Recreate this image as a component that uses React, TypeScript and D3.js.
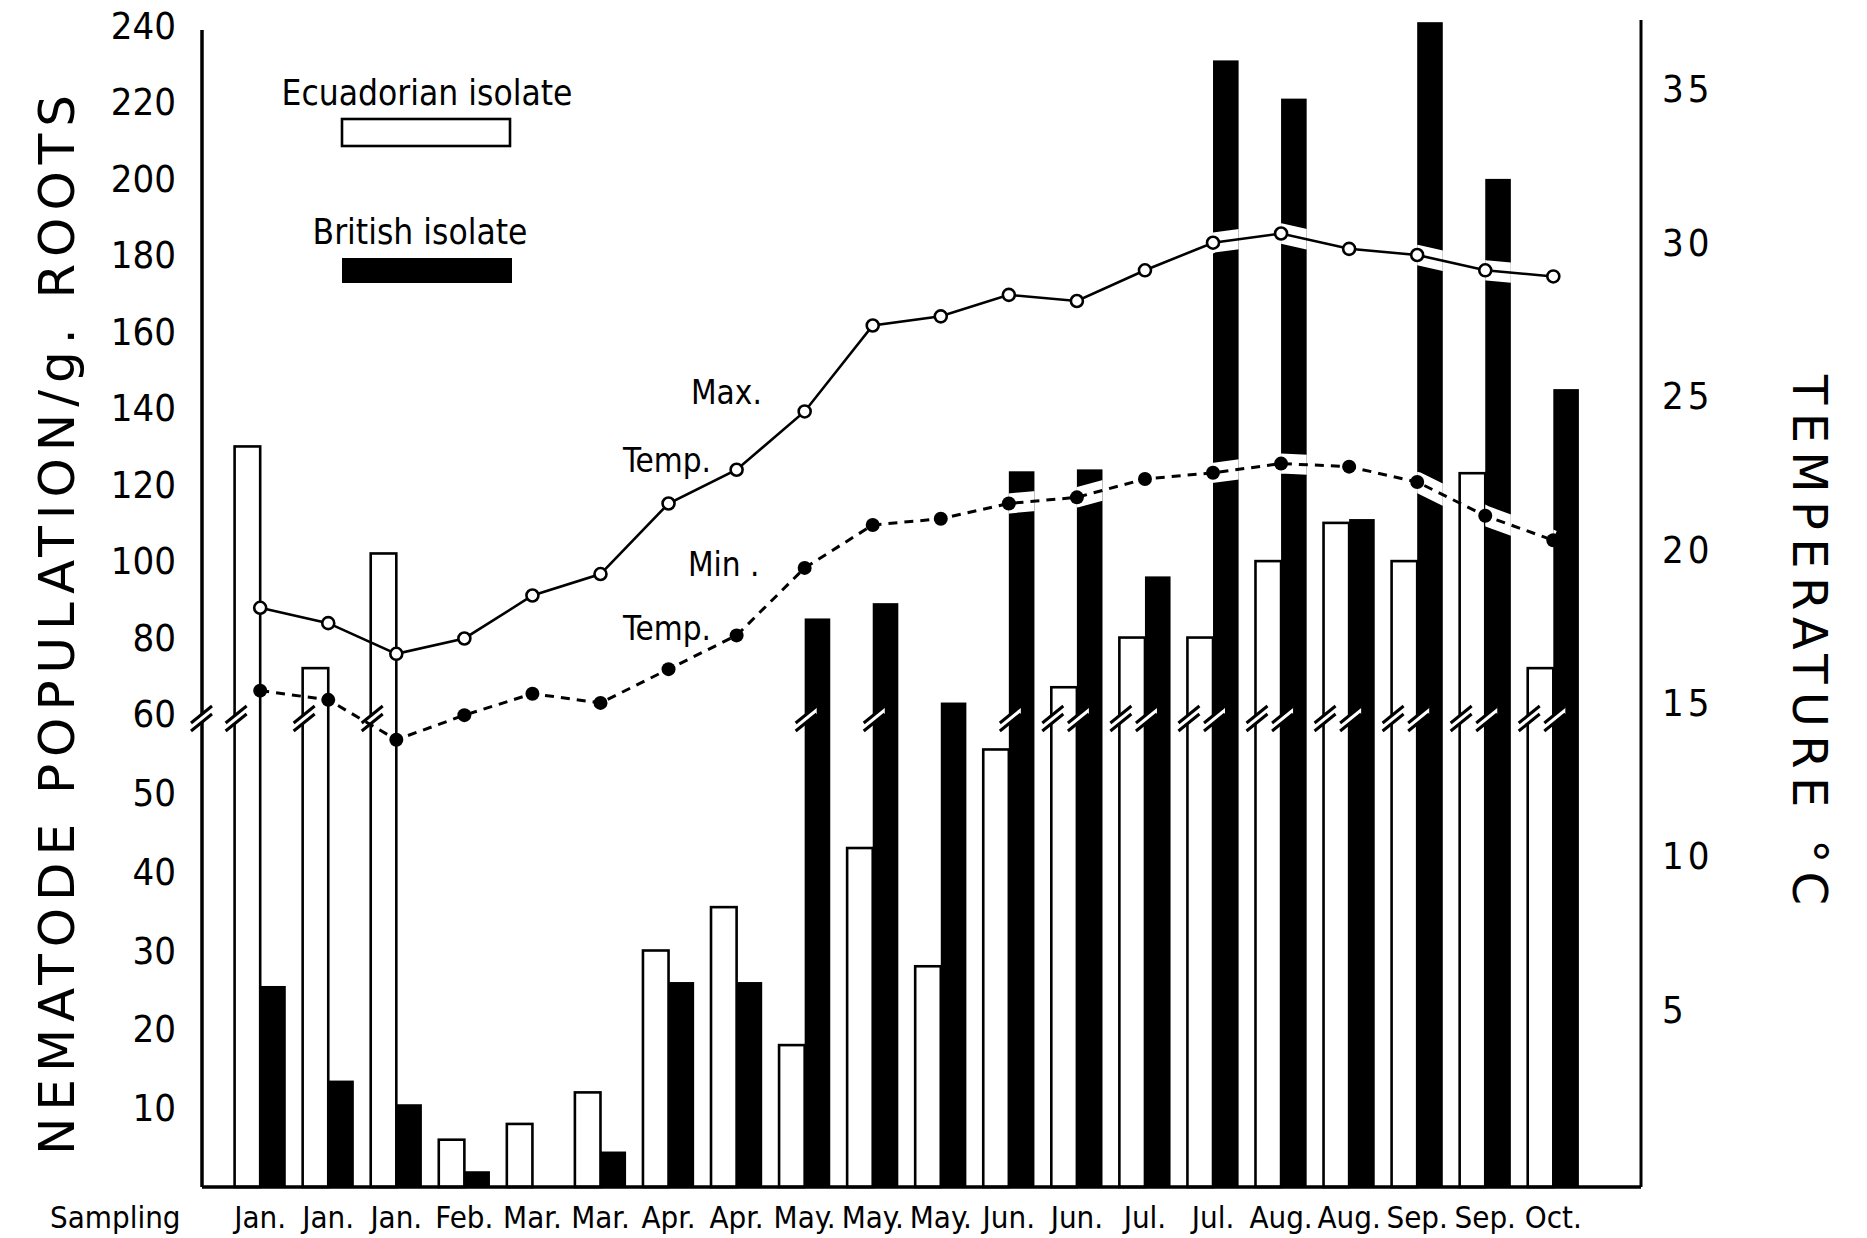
import React from "react";
import * as d3 from "d3";

// Sampling occasions (x categories)
const sampling = [
  "Jan.", "Jan.", "Jan.", "Feb.", "Mar.", "Mar.", "Apr.", "Apr.", "May.", "May.",
  "May.", "Jun.", "Jun.", "Jul.", "Jul.", "Aug.", "Aug.", "Sep.", "Sep.", "Oct.",
];

// Nematode population per g. roots
const ecuadorian = [130, 72, 102, 6, 8, 12, 30, 35.5, 18, 43, 28, 55.5, 67, 80, 80, 100, 110, 100, 123, 72];
const british = [25.5, 13.5, 10.5, 2, 0, 4.5, 26, 26, 85, 89, 63, 123.5, 124, 96, 231, 221, 111, 241, 200, 145];

// Air temperature, degrees C
const maxTemp = [18.1, 17.6, 16.6, 17.1, 18.5, 19.2, 21.5, 22.6, 24.5, 27.3, 27.6, 28.3, 28.1, 29.1, 30.0, 30.3, 29.8, 29.6, 29.1, 28.9];
const minTemp = [15.4, 15.1, 13.8, 14.6, 15.3, 15.0, 16.1, 17.2, 19.4, 20.8, 21.0, 21.5, 21.7, 22.3, 22.5, 22.8, 22.7, 22.2, 21.1, 20.3];

// Axis ticks
const popTicks = [10, 20, 30, 40, 50, 60, 80, 100, 120, 140, 160, 180, 200, 220, 240];
const tempTicks = [5, 10, 15, 20, 25, 30, 35];

const W = 1867;
const H = 1238;
const LEFT = 202;
const RIGHT = 1641;
const BASE = 1187;
const BREAK_VALUE = 60;

const LABEL_FONT = "'DejaVu Sans Condensed', 'Liberation Sans Narrow', 'DejaVu Sans', sans-serif";
const TITLE_FONT = "'DejaVu Sans', 'Noto Sans', sans-serif";

function BreakMark({ x0, yb }: { x0: number; yb: number }) {
  // a "//" scale break drawn across the left edge of a bar or axis
  const a = { x: x0 - 9, y: yb + 5 };
  const b = { x: x0 + 12, y: yb - 12 };
  const g = 8;
  return (
    <g>
      <polygon
        points={`${a.x},${a.y} ${b.x},${b.y} ${b.x},${b.y + g} ${a.x},${a.y + g}`}
        fill="#fff"
      />
      <line x1={a.x} y1={a.y} x2={b.x} y2={b.y} stroke="#000" strokeWidth={3} />
      <line x1={a.x} y1={a.y + g} x2={b.x} y2={b.y + g} stroke="#000" strokeWidth={3} />
    </g>
  );
}

export default function App() {
  const idx = d3.range(sampling.length);
  const x = d3
    .scaleBand<number>()
    .domain(idx)
    .range([234.6, 1578.9])
    .paddingInner(0.248)
    .paddingOuter(0);
  const y = d3.scaleLinear().domain([0, BREAK_VALUE, 240]).range([BASE, 714, 26]);
  const t = d3.scaleLinear().domain([5, 35]).range([1009.7, 89.3]);

  const half = x.bandwidth() / 2;
  const cx = (i: number) => (x(i) as number) + half;
  const tempLine = d3
    .line<number>()
    .x((_, i) => cx(i))
    .y((d) => t(d));

  const maxPath = tempLine(maxTemp) || "";
  const minPath = tempLine(minTemp) || "";
  const yb = y(BREAK_VALUE) + 4;

  return (
    <svg
      width={W}
      height={H}
      viewBox={`0 0 ${W} ${H}`}
      style={{ position: "absolute", left: 0, top: 0, background: "#fff" }}
    >
      <rect x={0} y={0} width={W} height={H} fill="#fff" />
      <defs>
        <clipPath id="britishBars">
          {idx.map((i) => (
            <rect
              key={i}
              x={cx(i)}
              y={y(british[i])}
              width={half}
              height={BASE - y(british[i])}
            />
          ))}
        </clipPath>
      </defs>

      {/* Ecuadorian isolate: open bars */}
      {idx.map((i) => (
        <rect
          key={`e${i}`}
          x={x(i)}
          y={y(ecuadorian[i])}
          width={half}
          height={BASE - y(ecuadorian[i])}
          fill="#fff"
          stroke="#000"
          strokeWidth={2.6}
        />
      ))}

      {/* British isolate: solid bars */}
      {idx.map((i) =>
        british[i] > 0 ? (
          <rect
            key={`b${i}`}
            x={cx(i)}
            y={y(british[i])}
            width={half}
            height={BASE - y(british[i])}
            fill="#000"
          />
        ) : null
      )}

      {/* white gaps where the temperature curves cross the solid bars */}
      <g clipPath="url(#britishBars)">
        <path d={maxPath} fill="none" stroke="#fff" strokeWidth={20} />
        <path d={minPath} fill="none" stroke="#fff" strokeWidth={20} />
      </g>

      {/* scale breaks on bars above 60 */}
      {idx.map((i) =>
        ecuadorian[i] > 65 ? <BreakMark key={`eb${i}`} x0={x(i) as number} yb={yb} /> : null
      )}
      {idx.map((i) =>
        british[i] > 65 ? <BreakMark key={`bb${i}`} x0={cx(i)} yb={yb} /> : null
      )}

      {/* axes */}
      <line x1={LEFT} y1={30} x2={LEFT} y2={BASE} stroke="#000" strokeWidth={3.5} />
      <line x1={RIGHT} y1={20} x2={RIGHT} y2={BASE} stroke="#000" strokeWidth={3} />
      <line x1={LEFT} y1={BASE} x2={RIGHT} y2={BASE} stroke="#000" strokeWidth={3.5} />
      <BreakMark x0={LEFT - 2} yb={yb} />

      {/* temperature curves */}
      <path d={maxPath} fill="none" stroke="#000" strokeWidth={2.6} />
      <path d={minPath} fill="none" stroke="#000" strokeWidth={3} strokeDasharray="9 7" />
      {maxTemp.map((d, i) => (
        <circle key={`mx${i}`} cx={cx(i)} cy={t(d)} r={6} fill="#fff" stroke="#000" strokeWidth={2.6} />
      ))}
      {minTemp.map((d, i) => (
        <circle key={`mn${i}`} cx={cx(i)} cy={t(d)} r={7} fill="#000" />
      ))}

      {/* left axis labels */}
      <g fontFamily={LABEL_FONT} fontSize={38} fill="#000">
        {popTicks.map((v) => (
          <text key={v} x={176} y={y(v)} textAnchor="end" dominantBaseline="central">
            {v}
          </text>
        ))}
      </g>

      {/* right axis labels */}
      <g fontFamily={LABEL_FONT} fontSize={38} fill="#000" letterSpacing={4}>
        {tempTicks.map((v) => (
          <text key={v} x={1662} y={t(v)} dominantBaseline="central">
            {v}
          </text>
        ))}
      </g>

      {/* sampling labels */}
      <g fontFamily={LABEL_FONT} fontSize={31} fill="#000">
        {sampling.map((s, i) => (
          <text key={i} x={cx(i)} y={1228} textAnchor="middle">
            {s}
          </text>
        ))}
        <text x={50} y={1228}>Sampling</text>
      </g>

      {/* legend */}
      <g fontFamily={LABEL_FONT} fontSize={35} fill="#000">
        <text x={427} y={105} textAnchor="middle">Ecuadorian isolate</text>
        <rect x={342} y={119} width={168} height={27} fill="#fff" stroke="#000" strokeWidth={2.6} />
        <text x={420} y={244} textAnchor="middle">British isolate</text>
        <rect x={342} y={258} width={170} height={25} fill="#000" />
      </g>

      {/* curve labels */}
      <g fontFamily={LABEL_FONT} fontSize={33} fill="#000">
        <text x={691} y={404}>Max.</text>
        <text x={623} y={472}>Temp.</text>
        <text x={688} y={576}>Min .</text>
        <text x={623} y={640}>Temp.</text>
      </g>

      {/* axis titles */}
      <text
        transform={`translate(57,625) rotate(-90)`}
        textAnchor="middle"
        dominantBaseline="central"
        fontFamily={TITLE_FONT}
        fontSize={50}
        textLength={1060}
        lengthAdjust="spacing"
      >
        NEMATODE POPULATION/g. ROOTS
      </text>
      <text
        transform={`translate(1810,640) rotate(90)`}
        textAnchor="middle"
        dominantBaseline="central"
        fontFamily={TITLE_FONT}
        fontSize={48}
        textLength={530}
        lengthAdjust="spacing"
      >
        TEMPERATURE °C
      </text>
    </svg>
  );
}
